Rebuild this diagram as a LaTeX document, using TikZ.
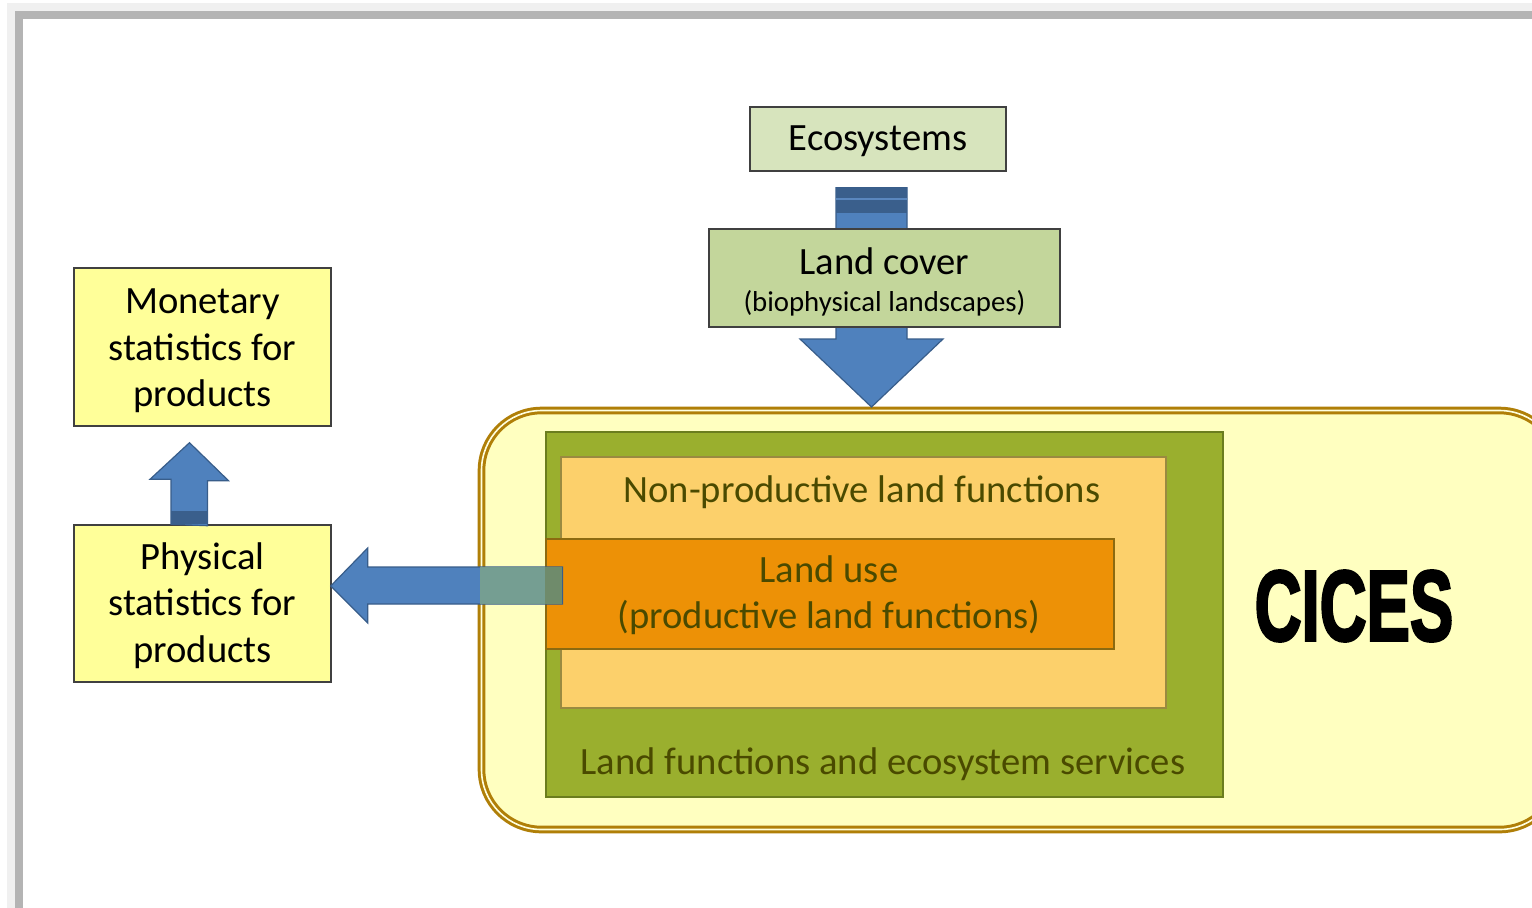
\documentclass[tikz,border=0pt]{standalone}
\usepackage{fontspec}
\usepackage{graphicx}
\setmainfont{Carlito}
\newfontfamily\cicesfont[FakeBold=3]{Liberation Sans Bold}
\usetikzlibrary{calc}

\definecolor{pagelight}{HTML}{F0F0F0}
\definecolor{pagedark}{HTML}{B4B4B4}
\definecolor{boxline}{HTML}{404040}
\definecolor{ecogreen}{HTML}{D7E4BD}
\definecolor{covergreen}{HTML}{C3D69B}
\definecolor{statyellow}{HTML}{FFFF99}
\definecolor{cicesyellow}{HTML}{FFFFC0}
\definecolor{cicesgold}{HTML}{B07F08}
\definecolor{lfgreen}{HTML}{9AAF2E}
\definecolor{lfline}{HTML}{6B7D1E}
\definecolor{nplight}{HTML}{FCD06B}
\definecolor{npline}{HTML}{9A8A40}
\definecolor{luorange}{HTML}{ED9106}
\definecolor{luline}{HTML}{8C6A10}
\definecolor{olivetext}{HTML}{4A4A00}
\definecolor{arrowblue}{HTML}{4F81BD}
\definecolor{arrowline}{HTML}{385D8A}
\definecolor{arrowdark}{HTML}{3A5F8C}
\definecolor{arrowlight}{HTML}{5A87BF}
\definecolor{overyellow}{HTML}{7BA38D}
\definecolor{overorange}{HTML}{6F8B6B}

\tikzstyle{statbox} = [rectangle, minimum width=128.5pt, minimum height=79pt, inner sep=0pt, draw=boxline, line width=0.7pt, fill=statyellow]
\tikzstyle{greenbox} = [rectangle, inner sep=0pt, draw=boxline, line width=0.7pt]
\tikzstyle{boxtext} = [align=center, inner sep=0pt, font=\fontsize{19.3}{23.3}\selectfont]
\tikzstyle{layerbox} = [rectangle, inner sep=0pt, line width=0.6pt]
\tikzstyle{layertext} = [text=olivetext, align=center, inner sep=0pt, font=\fontsize{19.3}{23}\selectfont]
\tikzstyle{bluearrow} = [fill=arrowblue, draw=arrowline, line width=0.6pt, line join=miter]

\begin{document}
\begin{tikzpicture}[x=0.5pt, y=-0.5pt]
        \useasboundingbox (0,0) rectangle (1532,907);
        \clip (0,0) rectangle (1532,907);

        % page frame
        \fill[pagelight] (7,3) rectangle (1540,915);
        \fill[pagedark] (15,11) rectangle (1540,915);
        \fill[white] (23,19) rectangle (1540,915);

        \node (eco) [greenbox, fill=ecogreen, minimum width=128pt, minimum height=32pt] at (878,139) {};
        \node (ecotext) [boxtext] at ($(eco.center)+(0,2)$) {Ecosystems};
        \node (cices) [rectangle, rounded corners=30pt, minimum width=539pt, minimum height=209.5pt, fill=cicesyellow, draw=cicesgold, line width=1.5pt, double=cicesyellow!50!white, double distance=0.8pt] at (1020.5,620) {};

        % down arrow behind land cover
        \coordinate (dtop) at ($(eco.south)+(-6.5,16)$);
        \coordinate (dtip) at ($(cices.north)+(-149,-2)$);
        \draw [bluearrow] ($(dtop)+(-35.5,0)$) -- ++(71,0) -- ($(dtip)+(35.5,-68)$) -- ++(36,0) -- (dtip) -- ++(-71.5,-68) -- ++(36,0) -- cycle;
        \fill[arrowdark] ($(dtop)+(-35.5,0)$) rectangle ($(dtop)+(35.5,25)$);
        \draw[arrowlight, line width=1pt] ($(dtop)+(-35.5,11.5)$) -- ($(dtop)+(35.5,11.5)$);

        \node (cover) [greenbox, fill=covergreen, minimum width=175.5pt, minimum height=49pt] at (884.5,278) {};
        \node (covertext) [boxtext] at ($(cover.center)+(0,4)$) {Land cover\\[-4.5pt]{\fontsize{14.4}{17}\selectfont (biophysical landscapes)}};

        \node (money) [statbox] at (202.5,347) {};
        \node (moneytext) [boxtext] at ($(money.center)+(0,4)$) {Monetary\\statistics for\\products};
        \node (phys) [statbox, minimum height=78.5pt] at (202.5,603.5) {};
        \node (physttext) [boxtext] at ($(phys.center)+(0,2)$) {Physical\\statistics for\\products};

        % up arrow
        \coordinate (ubase) at ($(phys.north)+(-13,0)$);
        \coordinate (utip) at ($(money.south)+(-13,16)$);
        \draw [bluearrow] ($(ubase)+(-18.5,0)$) -- ++(0,-45) -- ++(-21,0) -- (utip) -- ++(39,38) -- ++(-21,0) -- ++(0,45) -- cycle;
        \fill[arrowdark] ($(ubase)+(-18.5,-13)$) rectangle ($(ubase)+(18.5,0)$);

        % layers inside CICES
        \node (lf) [layerbox, fill=lfgreen, draw=lfline, minimum width=338.5pt, minimum height=182.5pt] at (884.5,614.5) {};
        \node (np) [layerbox, fill=nplight, draw=npline, minimum width=302.5pt, minimum height=125.5pt] at (863.5,582.5) {};
        \node (landuse) [layerbox, fill=luorange, draw=luline, minimum width=284pt, minimum height=55pt] at (830,594) {};

        \node (nptext) [layertext] at (862,492) {Non-productive land functions};
        \node (lutext) [layertext] at (829,595) {Land use\\(productive land functions)};
        \node (lftext) [layertext] at (883,764) {Land functions and ecosystem services};
        \node (cicestext) at (1354,606) {\cicesfont\fontsize{50}{50}\selectfont\scalebox{0.65}[1]{CICES}};

        % left arrow out of land use
        \coordinate (ltip) at ($(phys.east)+(-1,-17.5)$);
        \coordinate (lend) at ($(landuse.west)+(17,-8)$);
        \draw [bluearrow] ($(lend)+(0,-19)$) -- ($(ltip)+(37,-19)$) -- ++(0,-19) -- (ltip) -- ++(37,37) -- ++(0,-19) -- ($(lend)+(0,18)$) -- cycle;
        \fill[overyellow, fill opacity=0.88] ($(lend)+(-82,-19)$) rectangle ($(landuse.west |- lend)+(0,18)$);
        \fill[overorange] ($(landuse.west |- lend)+(0,-19)$) rectangle ($(lend)+(0,18)$);
    \end{tikzpicture}
\end{document}
